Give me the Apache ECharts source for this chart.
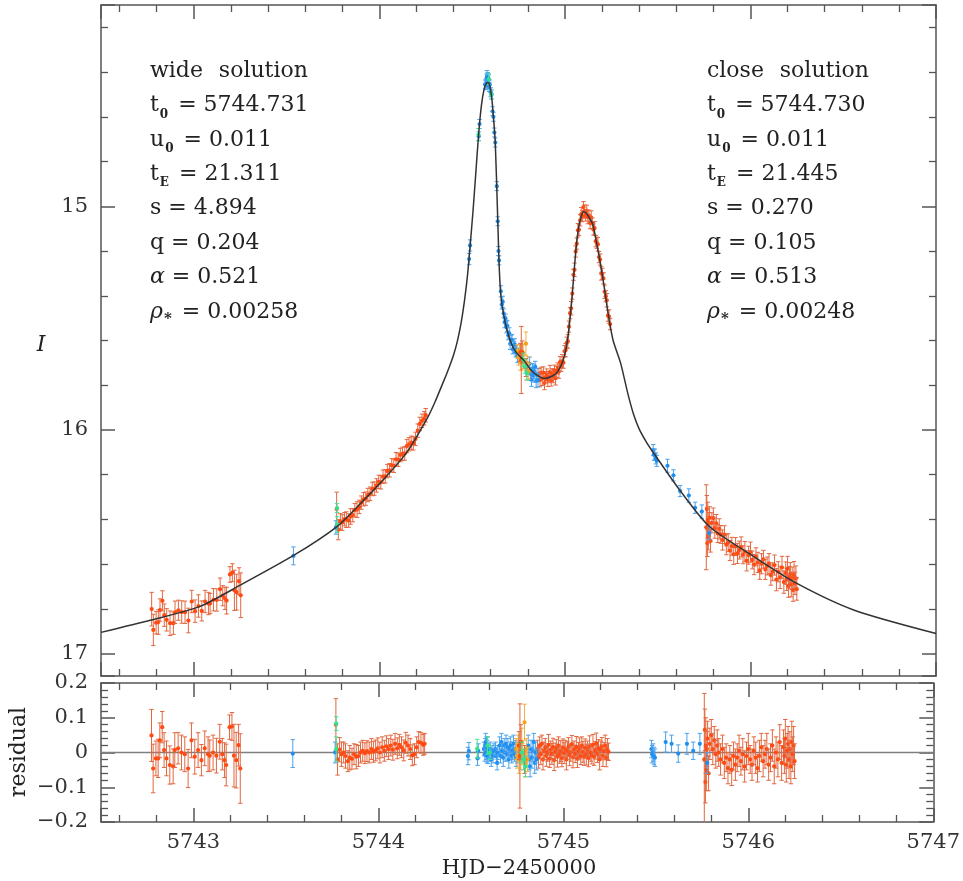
<!DOCTYPE html>
<html><head><meta charset="utf-8">
<script src="https://cdn.jsdelivr.net/npm/echarts@6/dist/echarts.min.js"></script>
<style>html,body{margin:0;padding:0;background:#fff}#c{width:963px;height:881px}</style>
</head><body><div id="c"></div>
<script>
// ---------- axis ranges ----------
const X_MIN = 5742.5, X_MAX = 5747;
const MAG_MIN = 14.1, MAG_MAX = 17.1;
const RES_MIN = -0.2, RES_MAX = 0.2;

// ---------- model curve ----------
const modelT = [5742.50,5742.77,5743.03,5743.25,5743.54,5743.77,5743.90,5744.02,5744.15,5744.26,5744.30,5744.33,5744.36,5744.38,5744.40,5744.42,5744.44,5744.46,5744.475,5744.49,5744.505,5744.52,5744.535,5744.55,5744.565,5744.578,5744.586,5744.595,5744.605,5744.615,5744.625,5744.636,5744.642,5744.647,5744.655,5744.669,5744.69,5744.72,5744.75,5744.78,5744.82,5744.86,5744.89,5744.93,5744.96,5744.99,5745.01,5745.02,5745.035,5745.046,5745.06,5745.075,5745.09,5745.10,5745.115,5745.13,5745.15,5745.17,5745.19,5745.21,5745.235,5745.26,5745.30,5745.34,5745.37,5745.40,5745.44,5745.48,5745.62,5745.78,5746.02,5746.25,5746.56,5747.00];
const modelMag = [16.905,16.850,16.79,16.694,16.56,16.433,16.328,16.224,16.098,15.945,15.875,15.815,15.755,15.712,15.665,15.605,15.525,15.415,15.31,15.17,15.02,14.85,14.68,14.55,14.475,14.448,14.446,14.46,14.51,14.60,14.72,15.00,15.17,15.29,15.40,15.48,15.56,15.63,15.665,15.69,15.735,15.76,15.77,15.76,15.74,15.69,15.62,15.56,15.44,15.33,15.19,15.09,15.04,15.024,15.03,15.05,15.08,15.16,15.25,15.35,15.49,15.60,15.70,15.84,15.93,15.995,16.055,16.105,16.27,16.433,16.567,16.686,16.806,16.91];

// ---------- orange (red) data ----------
const orangeA_T = [5742.773,5742.782,5742.797,5742.809,5742.818,5742.831,5742.841,5742.854,5742.872,5742.890,5742.899,5742.917,5742.935,5742.953,5742.971,5742.989,5743.007,5743.025,5743.043,5743.061,5743.079,5743.088,5743.106,5743.124,5743.142,5743.156,5743.168,5743.177,5743.195,5743.208,5743.219,5743.231,5743.244,5743.253];
const orangeA_Mag = [16.801,16.894,16.862,16.859,16.805,16.764,16.828,16.849,16.864,16.864,16.815,16.806,16.814,16.815,16.852,16.767,16.810,16.787,16.809,16.767,16.776,16.776,16.759,16.760,16.712,16.741,16.753,16.763,16.646,16.638,16.717,16.725,16.676,16.739];
const orangeA_Res = [0.049,-0.046,-0.017,-0.017,0.035,0.073,0.007,-0.017,-0.036,-0.040,0.007,0.012,0.000,-0.005,-0.046,0.035,-0.012,0.007,-0.022,0.012,-0.005,-0.009,0.000,-0.009,0.031,-0.005,-0.022,-0.036,0.073,0.075,-0.009,-0.022,0.021,-0.046];
const orangeA_Err = [0.075,0.07,0.05,0.055,0.05,0.045,0.05,0.05,0.055,0.05,0.05,0.045,0.05,0.05,0.055,0.05,0.05,0.05,0.045,0.05,0.05,0.045,0.05,0.05,0.05,0.045,0.05,0.06,0.035,0.04,0.09,0.08,0.06,0.1];

const orangeB_T = [5743.770,5743.779,5743.790,5743.800,5743.812,5743.822,5743.835,5743.845,5743.857,5743.868,5743.880,5743.892,5743.903,5743.915,5743.927,5743.938,5743.950,5743.962,5743.973,5743.985,5743.997,5744.008,5744.020,5744.032,5744.043,5744.055,5744.067,5744.078,5744.090,5744.102,5744.113,5744.125,5744.137,5744.148,5744.160,5744.172,5744.183,5744.195,5744.207,5744.218,5744.230,5744.242,5744.250];
const orangeB_Mag = [16.353,16.446,16.409,16.414,16.399,16.401,16.405,16.387,16.381,16.359,16.356,16.344,16.325,16.310,16.307,16.291,16.285,16.264,16.262,16.248,16.232,16.234,16.209,16.207,16.184,16.180,16.158,16.160,16.131,16.133,16.112,16.107,16.105,16.072,16.064,16.057,16.060,16.040,16.003,15.973,15.959,15.948,15.934];
const orangeB_Res = [0.080,-0.020,0.008,-0.005,0.000,-0.010,-0.025,-0.015,-0.018,-0.005,-0.012,-0.010,0.000,0.005,-0.002,0.004,0.000,0.010,0.002,0.006,0.012,0.000,0.015,0.005,0.018,0.010,0.020,0.008,0.025,0.012,0.022,0.015,0.006,0.028,0.020,0.010,-0.008,-0.005,0.015,0.030,0.028,0.022,0.025];
const orangeB_Err = [0.075,0.045,0.035,0.035,0.03,0.035,0.03,0.035,0.03,0.03,0.035,0.03,0.03,0.03,0.03,0.03,0.03,0.03,0.03,0.03,0.03,0.03,0.03,0.03,0.03,0.03,0.03,0.03,0.03,0.03,0.03,0.03,0.03,0.03,0.03,0.03,0.03,0.03,0.03,0.03,0.03,0.03,0.03];

const orangeT_T = [5744.760,5744.765,5744.770,5744.790];
const orangeT_Mag = [15.653,15.687,15.652,15.721];
const orangeT_Res = [0.020,-0.010,0.030,-0.020];
const orangeT_Err = [0.04,0.15,0.05,0.04];

const orangeC_T = [5744.860,5744.866,5744.872,5744.878,5744.884,5744.890,5744.896,5744.902,5744.908,5744.914,5744.920,5744.926,5744.932,5744.938,5744.944,5744.950,5744.956,5744.962,5744.968,5744.974,5744.980,5744.986,5744.992,5744.998,5745.004,5745.010,5745.016,5745.022,5745.028,5745.034,5745.040,5745.046,5745.052,5745.058,5745.064,5745.070,5745.076,5745.082,5745.088,5745.094,5745.100,5745.106,5745.112,5745.118,5745.124,5745.130,5745.136,5745.142,5745.148,5745.154,5745.160,5745.166,5745.172,5745.178,5745.184,5745.190,5745.196,5745.202,5745.208,5745.214,5745.220,5745.226,5745.232,5745.238,5745.244];
const orangeC_Mag = [15.750,15.777,15.744,15.771,15.743,15.790,15.764,15.752,15.776,15.764,15.741,15.779,15.751,15.759,15.735,15.769,15.741,15.725,15.739,15.697,15.713,15.693,15.699,15.648,15.643,15.610,15.604,15.538,15.478,15.456,15.390,15.306,15.284,15.202,15.167,15.107,15.105,15.063,15.035,15.044,15.004,15.024,15.041,15.020,15.048,15.042,15.075,15.050,15.077,15.104,15.098,15.156,15.163,15.170,15.227,15.238,15.300,15.302,15.322,15.382,15.402,15.420,15.489,15.493,15.527];
const orangeC_Res = [0.010,-0.015,0.020,-0.005,0.025,-0.020,0.005,0.015,-0.010,0.000,0.022,-0.018,0.008,-0.004,0.016,-0.022,0.002,0.012,-0.012,0.020,-0.006,0.004,-0.016,0.014,-0.002,0.010,-0.020,0.006,0.018,-0.008,0.000,0.024,-0.014,0.008,-0.004,0.016,-0.018,0.004,0.012,-0.010,0.020,0.002,-0.012,0.014,-0.006,0.008,-0.016,0.018,0.000,-0.008,0.022,-0.012,0.006,0.026,-0.004,0.012,-0.020,0.008,0.018,-0.010,0.004,0.020,-0.016,0.010,0.002];
const orangeC_Err = [0.025,0.03,0.025,0.03,0.025,0.03,0.025,0.025,0.03,0.025,0.03,0.025,0.025,0.03,0.025,0.03,0.025,0.025,0.03,0.025,0.025,0.03,0.025,0.025,0.03,0.025,0.03,0.025,0.025,0.03,0.025,0.025,0.03,0.025,0.025,0.03,0.025,0.025,0.03,0.025,0.025,0.03,0.025,0.025,0.03,0.025,0.025,0.03,0.025,0.025,0.03,0.025,0.025,0.03,0.025,0.025,0.03,0.025,0.025,0.03,0.025,0.03,0.025,0.03,0.025];

const orangeE_T = [5745.762,5745.765,5745.768,5745.770,5745.773,5745.776,5745.780,5745.785,5745.792,5745.800,5745.808,5745.816,5745.824,5745.832,5745.840,5745.850,5745.860,5745.870,5745.880,5745.890,5745.900,5745.910,5745.920,5745.930,5745.940,5745.950,5745.960,5745.970,5745.980,5745.990,5746.000,5746.010,5746.020,5746.030,5746.040,5746.050,5746.060,5746.070,5746.080,5746.090,5746.100,5746.110,5746.120,5746.130,5746.140,5746.150,5746.160,5746.170,5746.180,5746.190,5746.195,5746.200,5746.205,5746.210,5746.215,5746.220,5746.225,5746.230,5746.235,5746.240,5746.245,5746.250];
const orangeE_Mag = [16.435,16.353,16.506,16.403,16.476,16.419,16.393,16.496,16.415,16.394,16.439,16.418,16.463,16.442,16.467,16.492,16.468,16.513,16.504,16.539,16.520,16.556,16.521,16.552,16.537,16.523,16.558,16.544,16.585,16.560,16.546,16.581,16.602,16.567,16.592,16.628,16.598,16.578,16.623,16.608,16.598,16.649,16.634,16.604,16.669,16.634,16.659,16.615,16.680,16.640,16.668,16.620,16.698,16.660,16.643,16.691,16.663,16.716,16.648,16.686,16.663,16.711];
const orangeE_Res = [-0.020,0.065,-0.085,0.020,-0.050,0.010,0.040,-0.060,0.025,0.050,0.010,0.035,-0.005,0.020,0.000,-0.020,0.010,-0.030,-0.015,-0.045,-0.020,-0.050,-0.010,-0.035,-0.015,0.005,-0.025,-0.005,-0.040,-0.010,0.010,-0.020,-0.035,0.005,-0.015,-0.045,-0.010,0.015,-0.025,-0.005,0.010,-0.035,-0.015,0.020,-0.040,0.000,-0.020,0.030,-0.030,0.015,-0.010,0.040,-0.035,0.005,0.025,-0.020,0.010,-0.040,0.030,-0.005,0.020,-0.025];
const orangeE_Err = [0.19,0.06,0.06,0.08,0.06,0.05,0.05,0.05,0.045,0.045,0.045,0.04,0.04,0.045,0.04,0.045,0.04,0.045,0.04,0.045,0.04,0.045,0.04,0.045,0.04,0.045,0.04,0.045,0.045,0.04,0.045,0.04,0.045,0.04,0.045,0.04,0.045,0.04,0.045,0.04,0.045,0.045,0.04,0.045,0.05,0.045,0.05,0.05,0.05,0.05,0.05,0.055,0.05,0.05,0.05,0.055,0.05,0.05,0.06,0.05,0.055,0.05];

// ---------- blue data ----------
const blueT = [5743.537,5743.766,5744.484,5744.489,5744.536,5744.540,5744.570,5744.575,5744.578,5744.580,5744.582,5744.584,5744.586,5744.588,5744.590,5744.592,5744.595,5744.600,5744.605,5744.610,5744.615,5744.620,5744.625,5744.633,5744.638,5744.642,5744.645,5744.655,5744.660,5744.665,5744.670,5744.675,5744.680,5744.685,5744.690,5744.695,5744.700,5744.705,5744.710,5744.715,5744.720,5744.725,5744.730,5744.735,5744.740,5744.745,5744.750,5744.810,5744.815,5744.820,5744.825,5744.830,5744.835,5744.840,5744.845,5744.850,5744.855,5745.476,5745.480,5745.485,5745.490,5745.495,5745.553,5745.585,5745.621,5745.668,5745.702,5745.738,5745.778];
const blueMag = [16.563,16.436,15.236,15.175,14.687,14.632,14.455,14.459,14.428,14.418,14.447,14.422,14.456,14.434,14.432,14.467,14.455,14.490,14.500,14.575,14.600,14.670,14.715,14.910,15.067,15.200,15.242,15.380,15.439,15.427,15.479,15.518,15.502,15.541,15.535,15.577,15.568,15.615,15.597,15.598,15.640,15.631,15.617,15.653,15.643,15.674,15.665,15.704,15.749,15.775,15.728,15.756,15.739,15.718,15.781,15.754,15.777,16.090,16.110,16.111,16.127,16.138,16.160,16.203,16.273,16.293,16.348,16.365,16.461];
const blueRes = [-0.003,0.000,-0.010,0.004,-0.017,0.005,0.010,-0.005,0.020,0.030,0.000,0.025,-0.010,0.015,0.020,-0.012,0.005,-0.005,0.010,-0.020,0.000,-0.010,0.005,0.010,-0.010,-0.030,0.000,0.020,-0.010,0.030,0.005,-0.015,0.020,0.000,0.025,-0.005,0.015,-0.020,0.010,0.020,-0.010,0.005,0.025,-0.005,0.010,-0.015,0.000,0.020,-0.020,-0.040,0.010,-0.015,0.005,0.030,-0.030,0.000,-0.020,0.010,-0.005,0.000,-0.010,-0.015,0.030,0.025,-0.003,0.025,0.005,0.025,-0.030];
const blueErr = [0.04,0.03,0.025,0.025,0.02,0.02,0.02,0.02,0.02,0.025,0.02,0.02,0.02,0.02,0.025,0.02,0.02,0.02,0.02,0.02,0.02,0.02,0.02,0.02,0.02,0.02,0.02,0.025,0.02,0.025,0.02,0.025,0.02,0.025,0.025,0.02,0.025,0.025,0.02,0.025,0.02,0.025,0.025,0.02,0.025,0.025,0.03,0.03,0.03,0.03,0.025,0.03,0.03,0.025,0.03,0.03,0.03,0.025,0.025,0.025,0.025,0.025,0.029,0.025,0.025,0.03,0.025,0.03,0.03];

// ---------- green data ----------
const greenT = [5743.772,5743.772,5744.534,5744.590,5744.603,5744.775,5744.785,5744.795];
const greenMag = [16.349,16.423,14.679,14.432,14.500,15.686,15.716,15.747];
const greenRes = [0.083,0.010,0.011,0.020,0.000,0.000,-0.020,-0.040];
const greenErr = [0.02,0.035,0.027,0.025,0.02,0.03,0.03,0.03];

// ---------- gold data ----------
const goldT = [5744.745,5744.750,5744.755,5744.760,5744.765,5744.770,5744.775,5744.780,5744.790,5744.795,5744.800,5744.805];
const goldMag = [15.649,15.675,15.649,15.693,15.672,15.697,15.656,15.695,15.614,15.737,15.702,15.738];
const goldRes = [0.010,-0.010,0.020,-0.020,0.005,-0.015,0.030,-0.005,0.087,-0.030,0.010,-0.020];
const goldErr = [0.03,0.035,0.03,0.04,0.03,0.035,0.04,0.03,0.052,0.04,0.03,0.035];

// ---------- annotation text ----------
const wideLines = ['{m|wide}{w| }{m|solution}','{m|t}{s|0}{m| = 5744.731}','{m|u}{s|0}{m| = 0.011}','{m|t}{s|E}{m| = 21.311}','{m|s = 4.894}','{m|q = 0.204}','{g|\u03b1}{m| = 0.521}','{g|\u03c1}{st|*}{m| = 0.00258}'];
const closeLines = ['{m|close}{w| }{m|solution}','{m|t}{s|0}{m| = 5744.730}','{m|u}{s|0}{m| = 0.011}','{m|t}{s|E}{m| = 21.445}','{m|s = 0.270}','{m|q = 0.105}','{g|\u03b1}{m| = 0.513}','{g|\u03c1}{st|*}{m| = 0.00248}'];

// ---------- build ----------
function zip3(a, b, c) { const n = Math.min(a.length, b.length, c.length); const o = []; for (let i = 0; i < n; i++) o.push([a[i], b[i], c[i]]); return o; }
const FONT = 'DejaVu Serif';
const AX = '#555';

function errSeries(data, xi, yi, dot, bar, z) {
  return {
    type: 'custom', xAxisIndex: xi, yAxisIndex: yi, clip: true, z: z || 2,
    data: data, encode: { x: 0, y: 1 },
    renderItem: function (params, api) {
      const x = api.value(0), y = api.value(1), e = api.value(2);
      const c = api.coord([x, y]), a = api.coord([x, y - e]), b = api.coord([x, y + e]);
      const w = 2.2;
      return { type: 'group', children: [
        { type: 'line', shape: { x1: c[0], y1: a[1], x2: c[0], y2: b[1] }, style: { stroke: bar, lineWidth: 1 } },
        { type: 'line', shape: { x1: c[0] - w, y1: a[1], x2: c[0] + w, y2: a[1] }, style: { stroke: bar, lineWidth: 1 } },
        { type: 'line', shape: { x1: c[0] - w, y1: b[1], x2: c[0] + w, y2: b[1] }, style: { stroke: bar, lineWidth: 1 } },
        { type: 'circle', shape: { cx: c[0], cy: c[1], r: 2.1 }, style: { fill: dot } }
      ] };
    }
  };
}

const OR = ['#ff4a12', '#e2673f'], BL = ['#1f8ff0', '#4aa2ee'], GR = ['#2fe48c', '#45e39a'], GD = ['#f2a414', '#f0b040'];

const groups = [
  [orangeA_T, orangeA_Mag, orangeA_Res, orangeA_Err, OR],
  [orangeB_T, orangeB_Mag, orangeB_Res, orangeB_Err, OR],
  [orangeC_T, orangeC_Mag, orangeC_Res, orangeC_Err, OR],
  [orangeE_T, orangeE_Mag, orangeE_Res, orangeE_Err, OR],
  [blueT, blueMag, blueRes, blueErr, BL],
  [goldT, goldMag, goldRes, goldErr, GD],
  [orangeT_T, orangeT_Mag, orangeT_Res, orangeT_Err, OR],
  [greenT, greenMag, greenRes, greenErr, GR]
];

const series = [];
groups.forEach(function (g, k) {
  series.push(errSeries(zip3(g[0], g[1], g[3]), 0, 0, g[4][0], g[4][1], 2 + k * 0.01));
  series.push(errSeries(zip3(g[0], g[2], g[3]), 2, 2, g[4][0], g[4][1], 2 + k * 0.01));
});
series.push({ type: 'line', xAxisIndex: 0, yAxisIndex: 0, data: modelT.map((t, i) => [t, modelMag[i]]), symbol: 'none', smooth: 0.25, lineStyle: { color: '#333', width: 1.5 }, z: 5, silent: true });
series.push({ type: 'line', xAxisIndex: 2, yAxisIndex: 2, data: [[X_MIN, 0], [X_MAX, 0]], symbol: 'none', lineStyle: { color: '#808080', width: 1.5 }, z: 1, silent: true });

function xAx(grid, pos, labels) {
  return { type: 'value', gridIndex: grid, position: pos, min: X_MIN, max: X_MAX, splitNumber: 5,
    axisLine: { show: true, onZero: false, lineStyle: { color: AX, width: 1.5 } },
    axisTick: { show: true, inside: true, length: 14, lineStyle: { color: AX, width: 1.5 } },
    minorTick: { show: true, splitNumber: 5, length: 7, lineStyle: { color: AX, width: 1.3 } },
    splitLine: { show: false }, minorSplitLine: { show: false },
    axisLabel: { show: labels, margin: 10, fontFamily: FONT, fontSize: 21, color: '#333', showMinLabel: false,
      formatter: v => Math.abs(v - Math.round(v)) < 1e-6 ? String(Math.round(v)) : '' } };
}
function yMain(pos, labels) {
  return { type: 'value', gridIndex: 0, position: pos, inverse: true, min: MAG_MIN, max: MAG_MAX, splitNumber: 3,
    axisLine: { show: true, onZero: false, lineStyle: { color: AX, width: 1.5 } },
    axisTick: { show: true, inside: true, length: 14, lineStyle: { color: AX, width: 1.5 } },
    minorTick: { show: true, splitNumber: 5, length: 7, lineStyle: { color: AX, width: 1.3 } },
    splitLine: { show: false },
    axisLabel: { show: labels, margin: 13, fontFamily: FONT, fontSize: 21, color: '#333', showMinLabel: false, showMaxLabel: false,
      formatter: v => Math.abs(v - Math.round(v)) < 1e-6 ? String(Math.round(v)) : '' } };
}
function yRes(pos, labels) {
  return { type: 'value', gridIndex: 1, position: pos, min: RES_MIN, max: RES_MAX, interval: 0.1,
    axisLine: { show: true, onZero: false, lineStyle: { color: AX, width: 1.5 } },
    axisTick: { show: true, inside: true, length: 14, lineStyle: { color: AX, width: 1.5 } },
    minorTick: { show: true, splitNumber: 5, length: 7, lineStyle: { color: AX, width: 1.3 } },
    splitLine: { show: false },
    axisLabel: { show: labels, margin: 13, fontFamily: FONT, fontSize: 21, color: '#333',
      formatter: v => { const r = Math.round(v * 10) / 10; if (r === 0) return '0'; return (r < 0 ? '\u2212' : '') + Math.abs(r).toFixed(1); } } };
}

const rich = {
  m: { fontFamily: FONT, fontSize: 22, color: '#222', lineHeight: 30 },
  w: { fontFamily: FONT, fontSize: 50, color: '#222', lineHeight: 30 },
  g: { fontFamily: FONT, fontStyle: 'italic', fontSize: 22, color: '#222', lineHeight: 30 },
  s: { fontFamily: FONT, fontWeight: 'bold', fontSize: 12, color: '#222', lineHeight: 13, verticalAlign: 'bottom', padding: [0, 3, 0, 1] },
  st: { fontFamily: FONT, fontWeight: 'bold', fontSize: 15, color: '#222', lineHeight: 16, verticalAlign: 'bottom', padding: [0, 3, 0, 1] }
};
const graphics = [];
function addBlock(lines, x0) {
  lines.forEach(function (txt, i) {
    graphics.push({ type: 'text', x: x0, y: 71 + i * 34.4, silent: true,
      style: { text: txt, rich: rich, align: 'left', verticalAlign: 'middle', fill: '#222' } });
  });
}
addBlock(wideLines, 150);
addBlock(closeLines, 707);
graphics.push({ type: 'text', x: 41, y: 345, style: { text: 'I', font: 'italic 22px "DejaVu Serif"', fill: '#222', align: 'center', verticalAlign: 'middle' } });
graphics.push({ type: 'text', x: 19, y: 752, rotation: Math.PI / 2, style: { text: 'residual', font: '22px "DejaVu Serif"', fill: '#222', align: 'center', verticalAlign: 'middle' } });
graphics.push({ type: 'text', x: 519, y: 869, style: { text: 'HJD\u22122450000', font: '21px "DejaVu Serif"', fill: '#222', align: 'center', verticalAlign: 'middle' } });

const chart = echarts.init(document.getElementById('c'), null, { renderer: 'canvas' });
chart.setOption({
  animation: false,
  backgroundColor: '#fff',
  grid: [
    { left: 101, top: 5, width: 835, height: 671 },
    { left: 101, top: 683, width: 835, height: 139 }
  ],
  xAxis: [xAx(0, 'bottom', false), xAx(0, 'top', false), xAx(1, 'bottom', true), xAx(1, 'top', false)],
  yAxis: [yMain('left', true), yMain('right', false), yRes('left', true), yRes('right', false)],
  series: series,
  graphic: graphics
});
</script></body></html>
